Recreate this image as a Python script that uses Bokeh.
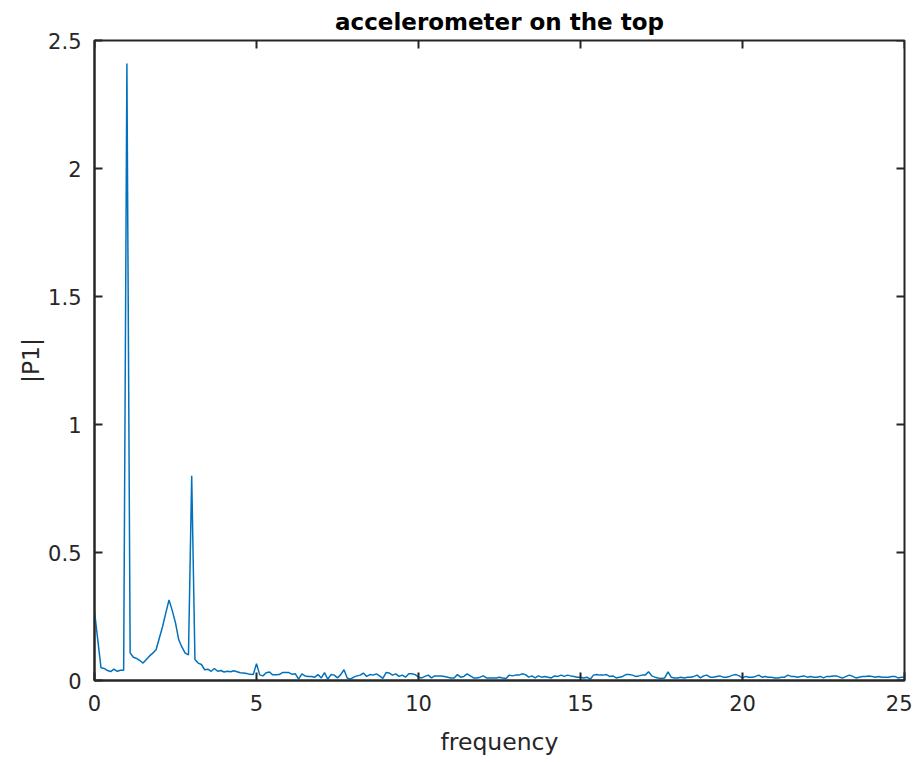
import numpy as np
from bokeh.plotting import figure
from bokeh.models import Range1d, FixedTicker
from bokeh.embed import file_html
from bokeh.resources import INLINE

# ---- data ----
freq_step = 0.1
P1 = [
    0.27, 0.16, 0.05, 0.047, 0.039, 0.035, 0.044, 0.036, 0.040, 0.040,      # 0.0-0.9
    2.41, 0.108, 0.091, 0.086, 0.078, 0.068, 0.082, 0.096, 0.107, 0.12,     # 1.0-1.9
    0.165, 0.21, 0.263, 0.315, 0.273, 0.225, 0.159, 0.13, 0.107, 0.10,      # 2.0-2.9
    0.80, 0.082, 0.068, 0.0625, 0.042, 0.044, 0.036, 0.047, 0.036, 0.039,   # 3.0-3.9
    0.033, 0.036, 0.034, 0.038, 0.034, 0.030, 0.029, 0.027, 0.024, 0.023,   # 4.0-4.9
    0.066, 0.022, 0.018, 0.030, 0.033, 0.022, 0.022, 0.023, 0.031, 0.031,   # 5.0-5.9
    0.031, 0.024, 0.026, 0.005, 0.026, 0.018, 0.016, 0.016, 0.013, 0.023,   # 6.0-6.9
    0.010, 0.031, 0.005, 0.023, 0.021, 0.010, 0.023, 0.042, 0.010, 0.005,   # 7.0-7.9
    0.013, 0.018, 0.021, 0.029, 0.016, 0.023, 0.021, 0.026, 0.018, 0.008,   # 8.0-8.9
    0.031, 0.029, 0.021, 0.026, 0.016, 0.021, 0.013, 0.026, 0.026, 0.023,   # 9.0-9.9
    0.013, 0.010, 0.016, 0.021, 0.010, 0.018, 0.018, 0.018, 0.016, 0.013,   # 10.0-10.9
    0.010, 0.010, 0.023, 0.013, 0.016, 0.026, 0.018, 0.010, 0.010, 0.013,   # 11.0-11.9
    0.018, 0.010, 0.010, 0.010, 0.010, 0.013, 0.010, 0.008, 0.021, 0.018,   # 12.0-12.9
    0.021, 0.021, 0.026, 0.023, 0.013, 0.018, 0.010, 0.018, 0.013, 0.016,   # 13.0-13.9
    0.013, 0.010, 0.018, 0.016, 0.021, 0.016, 0.021, 0.018, 0.016, 0.013,   # 14.0-14.9
    0.013, 0.010, 0.013, 0.005, 0.021, 0.023, 0.021, 0.021, 0.023, 0.016,   # 15.0-15.9
    0.018, 0.010, 0.013, 0.016, 0.023, 0.023, 0.021, 0.016, 0.018, 0.021,   # 16.0-16.9
    0.021, 0.034, 0.018, 0.013, 0.010, 0.008, 0.010, 0.034, 0.013, 0.010,   # 17.0-17.9
    0.010, 0.013, 0.010, 0.013, 0.013, 0.016, 0.021, 0.010, 0.018, 0.021,   # 18.0-18.9
    0.013, 0.013, 0.016, 0.018, 0.013, 0.013, 0.016, 0.021, 0.023, 0.018,   # 19.0-19.9
    0.010, 0.016, 0.013, 0.013, 0.016, 0.021, 0.013, 0.016, 0.013, 0.013,   # 20.0-20.9
    0.010, 0.010, 0.013, 0.013, 0.021, 0.016, 0.016, 0.013, 0.016, 0.018,   # 21.0-21.9
    0.013, 0.016, 0.013, 0.013, 0.016, 0.010, 0.016, 0.016, 0.018, 0.018,   # 22.0-22.9
    0.013, 0.010, 0.016, 0.021, 0.016, 0.010, 0.013, 0.016, 0.016, 0.018,   # 23.0-23.9
    0.016, 0.013, 0.016, 0.013, 0.013, 0.013, 0.016, 0.016, 0.010, 0.013,   # 24.0-24.9
    0.013,                                                                  # 25.0
]
frequency = [round(i * freq_step, 1) for i in range(len(P1))]

x_ticks = [0, 5, 10, 15, 20, 25]
x_tick_labels = ["0", "5", "10", "15", "20", "25"]
y_ticks = [0, 0.5, 1, 1.5, 2, 2.5]
y_tick_labels = ["0", "0.5", "1", "1.5", "2", "2.5"]

title_text = "accelerometer on the top"
x_label = "frequency"
y_label = "|P1|"

# ---- styling ----
FONT = "DejaVu Sans"
AX_COLOR = "#262626"
LINE_COLOR = "#0072BD"
TICK_LEN = 8

p = figure(width=912, height=762,
           x_range=Range1d(x_ticks[0], x_ticks[-1]),
           y_range=Range1d(y_ticks[0], y_ticks[-1]),
           output_backend="svg", toolbar_location=None,
           min_border_left=94, min_border_right=8,
           min_border_top=40, min_border_bottom=82,
           x_axis_label=x_label, y_axis_label=y_label)

p.title.text = title_text
p.title.align = "center"
p.title.text_font = FONT
p.title.text_font_size = "23px"
p.title.text_font_style = "bold"
p.title.text_color = "#000000"
p.title.standoff = 12

p.xgrid.visible = False
p.ygrid.visible = False
p.outline_line_color = AX_COLOR
p.outline_line_width = 2
p.background_fill_color = "white"
p.border_fill_color = "white"

p.line(frequency, P1, line_color=LINE_COLOR, line_width=1.5)

# mirrored inward ticks on the top and right edges of the box
p.ray(x=x_ticks, y=max(y_ticks), length=TICK_LEN, length_units="screen",
      angle=-np.pi / 2, line_color=AX_COLOR, line_width=2)
p.ray(x=max(x_ticks), y=y_ticks, length=TICK_LEN, length_units="screen",
      angle=np.pi, line_color=AX_COLOR, line_width=2)

def style_axis(ax, ticks, labels):
    ax.ticker = FixedTicker(ticks=ticks)
    ax.major_label_overrides = {t: l for t, l in zip(ticks, labels)}
    ax.axis_line_color = AX_COLOR
    ax.axis_line_width = 2
    ax.major_tick_line_color = AX_COLOR
    ax.major_tick_line_width = 2
    ax.major_tick_in = TICK_LEN
    ax.major_tick_out = 0
    ax.minor_tick_line_color = None
    ax.major_label_text_font = FONT
    ax.major_label_text_color = AX_COLOR
    ax.major_label_text_font_size = "21px"
    ax.axis_label_text_font = FONT
    ax.axis_label_text_font_style = "normal"
    ax.axis_label_text_color = AX_COLOR
    ax.axis_label_text_font_size = "23.5px"

xa = p.xaxis[0]
style_axis(xa, x_ticks, x_tick_labels)
xa.major_label_standoff = 14
xa.axis_label_standoff = 14

ya = p.yaxis[0]
style_axis(ya, y_ticks, y_tick_labels)
ya.major_label_standoff = 13
ya.axis_label_standoff = 0

open("out.html", "w").write(file_html(p, INLINE))
